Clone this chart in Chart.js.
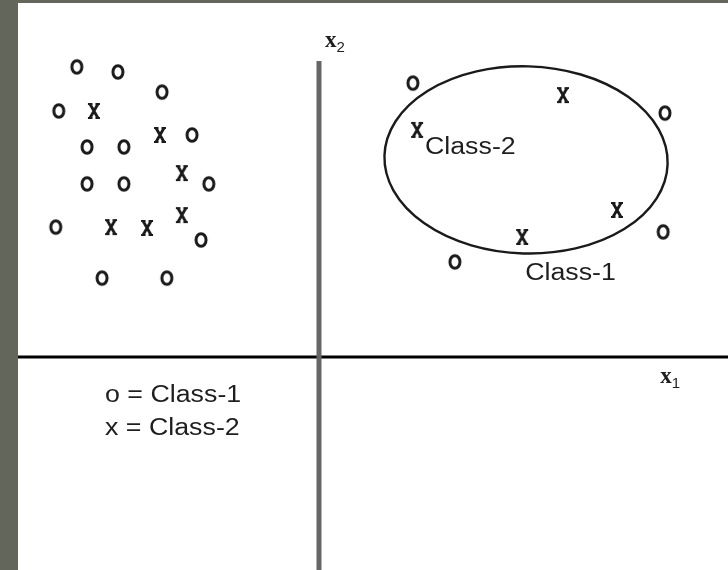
<!DOCTYPE html>
<html>
<head>
<meta charset="utf-8">
<script src="https://cdn.jsdelivr.net/npm/chart.js@4/dist/chart.umd.min.js"></script>
<style>
  html, body { margin: 0; padding: 0; }
  body { width: 728px; height: 570px; background: #63665a; position: relative; overflow: hidden; }
  #wrap { position: absolute; left: 18px; top: 3px; width: 710px; height: 567px; background: #ffffff; }
  canvas { display: block; }
</style>
</head>
<body>
<div id="wrap"><canvas id="c" width="710" height="567"></canvas></div>
<script>
// ---- data (units; origin = axis crossing) ----
const xRange = [-10.03, 13.63];
const yRange = [-7.1, 11.8];

const class1X = [-8.07, -6.70, -5.23, -8.67, -4.23, -7.73, -6.50, -3.67, -7.73, -6.50, -8.77, -3.93, -7.23, -5.07, 3.13, 11.53, 11.47, 4.53];
const class1Y = [ 9.67,  9.50,  8.83,  8.20,  7.40,  7.00,  7.00,  5.77,  5.77,  5.77,  4.33,  3.90,  2.63,  2.63, 9.13,  8.13,  4.17, 3.17];

const class2X = [-7.50, -5.30, -4.57, -6.93, -5.73, -4.57, 8.13, 3.27, 9.93, 6.77];
const class2Y = [ 8.20,  7.40,  6.13,  4.33,  4.30,  4.73, 8.73, 7.57, 4.90, 4.00];

const x2AxisTop = 9.87;            // vertical axis starts here
const ellipseCenter = [6.9, 6.57];
const ellipseRadii = [4.72, 3.12];
const ellipseTilt = 0.03;

const labelTexts = ["Class-2", "Class-1", "o = Class-1", "x = Class-2"];
const labelX     = [3.53, 6.87, -7.13, -7.13];
const labelY     = [7.0, 2.8, -1.27, -2.37];
const axisNames  = [["x", "1"], ["x", "2"]];
const axisNameX  = [11.37, 0.2];
const axisNameY  = [-0.67, 10.53];

// ---- marker images ----
function makeO() {
  const c = document.createElement('canvas'); c.width = 16; c.height = 20;
  const g = c.getContext('2d');
  g.strokeStyle = '#1a1a1a'; g.lineWidth = 3;
  g.beginPath(); g.ellipse(8, 10, 5, 6.3, 0, 0, Math.PI * 2); g.stroke();
  return c;
}
function makeX() {
  const c = document.createElement('canvas'); c.width = 16; c.height = 20;
  const g = c.getContext('2d');
  g.strokeStyle = '#1a1a1a'; g.lineWidth = 2.8; g.lineCap = 'butt';
  g.beginPath();
  g.moveTo(4, 3); g.lineTo(12, 17);
  g.moveTo(12, 3); g.lineTo(4, 17);
  g.stroke();
  g.lineWidth = 1.8;
  g.beginPath();
  g.moveTo(2, 3); g.lineTo(6.5, 3);
  g.moveTo(9.5, 3); g.lineTo(14, 3);
  g.moveTo(2, 17); g.lineTo(6.5, 17);
  g.moveTo(9.5, 17); g.lineTo(14, 17);
  g.stroke();
  return c;
}
const oImg = makeO();
const xImg = makeX();

const toPts = (xs, ys) => xs.map((x, i) => ({ x: x, y: ys[i] }));

// ---- plugin: ellipse and text ----
const decor = {
  id: 'decor',
  afterDatasetsDraw(chart) {
    const ctx = chart.ctx, sx = chart.scales.x, sy = chart.scales.y;
    ctx.save();
    // ellipse
    const cx = sx.getPixelForValue(ellipseCenter[0]);
    const cy = sy.getPixelForValue(ellipseCenter[1]);
    const rx = sx.getPixelForValue(ellipseCenter[0] + ellipseRadii[0]) - cx;
    const ry = cy - sy.getPixelForValue(ellipseCenter[1] + ellipseRadii[1]);
    ctx.strokeStyle = '#1a1a1a'; ctx.lineWidth = 2.4;
    ctx.beginPath(); ctx.ellipse(cx, cy, rx, ry, ellipseTilt, 0, Math.PI * 2); ctx.stroke();
    // labels
    ctx.fillStyle = '#1e1e1e'; ctx.textAlign = 'left'; ctx.textBaseline = 'middle';
    ctx.font = '26px "Liberation Sans", Arial, sans-serif';
    labelTexts.forEach((t, i) => {
      const px = sx.getPixelForValue(labelX[i]), py = sy.getPixelForValue(labelY[i]);
      ctx.save(); ctx.translate(px, py); ctx.scale(1.03, 0.92);
      ctx.fillText(t, 0, 0); ctx.restore();
    });
    // axis names
    axisNames.forEach((n, i) => {
      const px = sx.getPixelForValue(axisNameX[i]), py = sy.getPixelForValue(axisNameY[i]);
      ctx.font = 'bold 23px "Liberation Serif", serif';
      ctx.fillText(n[0], px, py);
      const w = ctx.measureText(n[0]).width;
      ctx.font = '15px "Liberation Sans", sans-serif';
      ctx.fillText(n[1], px + w, py + 7);
    });
    ctx.restore();
  }
};

new Chart(document.getElementById('c'), {
  type: 'scatter',
  data: {
    datasets: [
      { label: 'x1 axis', type: 'line', data: [{ x: xRange[0], y: 0 }, { x: xRange[1], y: 0 }],
        borderColor: '#000', borderWidth: 3, pointRadius: 0, order: 3 },
      { label: 'x2 axis', type: 'line', data: [{ x: 0, y: x2AxisTop }, { x: 0, y: yRange[0] }],
        borderColor: '#666', borderWidth: 5, pointRadius: 0, order: 2 },
      { label: 'Class-1', data: toPts(class1X, class1Y), pointStyle: oImg, order: 1 },
      { label: 'Class-2', data: toPts(class2X, class2Y), pointStyle: xImg, order: 1 }
    ]
  },
  options: {
    responsive: false,
    animation: false,
    devicePixelRatio: 1,
    layout: { padding: 0, autoPadding: false },
    plugins: { legend: { display: false }, tooltip: { enabled: false } },
    scales: {
      x: { type: 'linear', min: xRange[0], max: xRange[1], display: false },
      y: { type: 'linear', min: yRange[0], max: yRange[1], display: false }
    }
  },
  plugins: [decor]
});
</script>
</body>
</html>
